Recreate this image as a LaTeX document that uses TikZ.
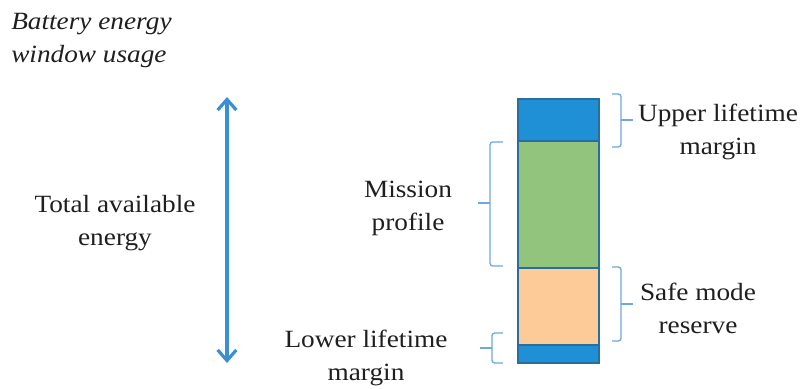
\documentclass[tikz,border=0pt]{standalone}
\usepackage{fontspec}
\setmainfont{Liberation Serif}[FakeStretch=1.1]
\usetikzlibrary{arrows.meta}
\definecolor{barblue}{HTML}{1F8FD6}
\definecolor{bargreen}{HTML}{93C47D}
\definecolor{barorange}{HTML}{FDCB98}
\definecolor{edgeblue}{HTML}{2A6E9E}
\definecolor{brk}{HTML}{6FA8DC}
\definecolor{arrowblue}{HTML}{3A8FD5}
\begin{document}
\begin{tikzpicture}[x=0.75pt,y=-0.75pt,
  seg/.style={draw=edgeblue,line width=1.2pt},
  lbl/.style={font=\fontsize{18.6}{24.75}\selectfont,align=center,text=black!88,inner sep=0pt},
  bracket/.style={draw=brk,line width=1pt,rounded corners=2pt}]
\useasboundingbox (0,0) rectangle (804,389);
% bar segments
\path[seg,fill=barblue] (518,99) rectangle (599,141);
\path[seg,fill=bargreen] (518,141) rectangle (599,268);
\path[seg,fill=barorange] (518,268) rectangle (599,345);
\path[seg,fill=barblue] (518,345) rectangle (599,363);
\node[inner sep=0pt] (bar) at (558.5,231) {};
% arrow
\coordinate (atop) at (227,97);
\coordinate (abot) at (227,363);
\draw[arrowblue,line width=2.4pt,{Straight Barb[length=8pt,width=14pt]}-{Straight Barb[length=8pt,width=14pt]}] (atop) -- (abot);
% brackets
\draw[bracket] (612,94) -- (621,94) -- (621,147) -- (612,147);
\draw[bracket] (621,120) -- (633,120);
\draw[bracket] (612,267) -- (621,267) -- (621,341) -- (612,341);
\draw[bracket] (621,304) -- (633,304);
\draw[bracket] (503,142) -- (490,142) -- (490,266) -- (503,266);
\draw[bracket] (490,203) -- (478,203);
\draw[bracket] (503,333) -- (492,333) -- (492,363) -- (503,363);
\draw[bracket] (492,348) -- (480,348);
% labels
\node[lbl,align=left,anchor=west,font=\fontsize{18.6}{24.75}\selectfont\itshape] (title) at (11,41) {Battery energy\\window usage};
\node[lbl] (total) at (115,223) {Total available\\energy};
\node[lbl] (mission) at (408,208) {Mission\\profile};
\node[lbl] (upper) at (718,132) {Upper lifetime\\margin};
\node[lbl] (safe) at (698,308) {Safe mode\\reserve};
\node[lbl] (lower) at (366,358) {Lower lifetime\\margin};
\end{tikzpicture}
\end{document}
